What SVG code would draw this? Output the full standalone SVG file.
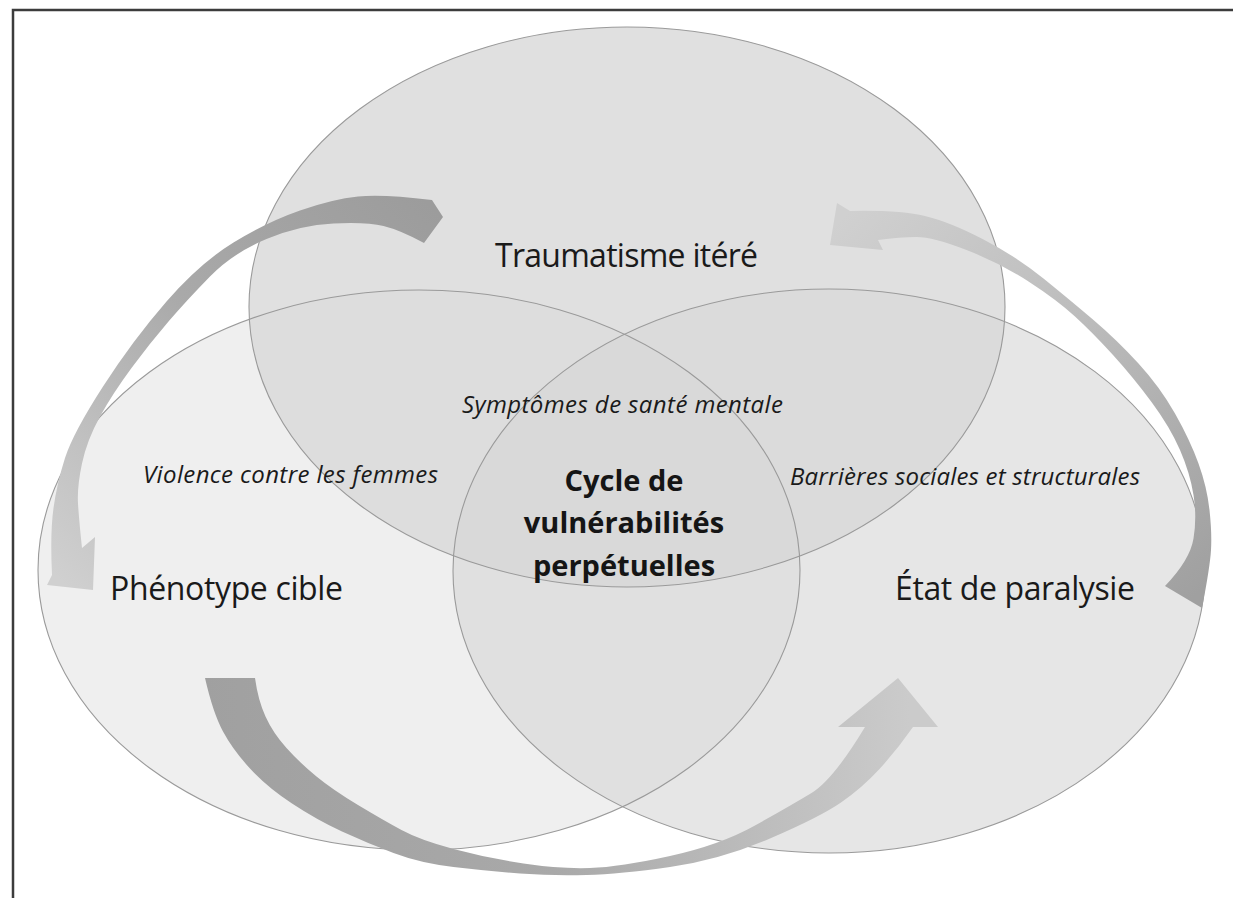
<svg xmlns="http://www.w3.org/2000/svg" width="1233" height="898" viewBox="0 0 1233 898">
<style>
.fillE{fill:#d7d7d7;stroke:none}
.outl{fill:none;stroke:#9a9a9a;stroke-width:1.1}
.lbl{font-family:"Open Sans","Liberation Sans",sans-serif;font-size:32px;fill:#1a1a1a}
.it{font-family:"Open Sans","Liberation Sans",sans-serif;font-size:24px;font-style:italic;fill:#1a1a1a}
.bd{font-family:"Open Sans","Liberation Sans",sans-serif;font-size:29px;font-weight:bold;fill:#151515;text-anchor:middle}
</style>
<defs>
<linearGradient id="gTL" gradientUnits="userSpaceOnUse" x1="440" y1="215" x2="70" y2="590">
<stop offset="0" stop-color="#9c9c9c"/><stop offset="0.45" stop-color="#a9a9a9"/><stop offset="1" stop-color="#d0d0d0"/>
</linearGradient>
<linearGradient id="gR" gradientUnits="userSpaceOnUse" x1="840" y1="220" x2="1190" y2="600">
<stop offset="0" stop-color="#d0d0d0"/><stop offset="0.5" stop-color="#bababa"/><stop offset="1" stop-color="#a0a0a0"/>
</linearGradient>
<linearGradient id="gB" gradientUnits="userSpaceOnUse" x1="200" y1="700" x2="910" y2="700">
<stop offset="0" stop-color="#a0a0a0"/><stop offset="0.5" stop-color="#a9a9a9"/><stop offset="1" stop-color="#cbcbcb"/>
</linearGradient>
</defs>
<rect x="0" y="0" width="1233" height="898" fill="#ffffff"/>
<g id="frame" fill="none" stroke="#3c3c3c" stroke-width="2.5">
<path d="M13 898 V10 H1233"/>
</g>
<g id="node-phenotype">
<ellipse class="fillE" cx="419" cy="570" rx="381" ry="280" fill-opacity="0.4"/>
<text class="lbl" x="110" y="600" textLength="233">Phénotype cible</text>
</g>
<g id="node-paralysie">
<ellipse class="fillE" cx="829" cy="571" rx="376" ry="282" fill-opacity="0.625"/>
<text class="lbl" x="895" y="600" textLength="240">État de paralysie</text>
</g>
<g id="node-traumatisme">
<ellipse class="fillE" cx="627" cy="307" rx="378" ry="280" fill-opacity="0.775"/>
<text class="lbl" x="495" y="267" textLength="263">Traumatisme itéré</text>
</g>
<g id="outlines">
<ellipse class="outl" cx="419" cy="570" rx="381" ry="280"/>
<ellipse class="outl" cx="829" cy="571" rx="376" ry="282"/>
<ellipse class="outl" cx="627" cy="307" rx="378" ry="280" stroke="#8f8f8f"/>
</g>
<g id="connectors">
<path id="arrow-top-left" fill="url(#gTL)" d="M432 200 Q383 194 358 196.5 Q333 199 300 210.5 Q267 222 233.5 242.5 Q200 263 166.5 301.5 Q133 340 103 386.5 Q73 433 65 458 Q57 483 53.5 508 Q50 533 52 575 L47 585 L93 590 L95 537 L82 548 Q79 520 78 503.5 Q77 487 82 463.5 Q87 440 100 416.5 Q113 393 131.5 368 Q150 343 168.5 321.5 Q187 300 210 276.5 Q233 253 266.5 239 Q300 225 333.5 223.5 Q367 222 383.5 226 Q400 230 424 243 L443 217 Z"/>
<path id="arrow-right" fill="url(#gR)" d="M837 203 L850 211 Q900 210 925 216 Q950 222 983.5 239.5 Q1017 257 1043.5 278.5 Q1070 300 1093.5 320 Q1117 340 1138.5 363.5 Q1160 387 1175 413.5 Q1190 440 1198.5 463.5 Q1207 487 1209.5 510 Q1212 533 1211 550 Q1210 567 1202 608 L1165 586 Q1190 560 1193.5 538.5 Q1197 517 1193.5 495 Q1190 473 1180 450 Q1170 427 1151.5 402 Q1133 377 1113 355 Q1093 333 1075 316.5 Q1057 300 1028.5 281.5 Q1000 263 966.5 250 Q933 237 916.5 237 Q900 237 878 240 L883 250 L830 245 Z"/>
<path id="arrow-bottom" fill="url(#gB)" d="M205 678 L255 678 Q258 700 265.5 716.5 Q273 733 286.5 748 Q300 763 316.5 776.5 Q333 790 358 805 Q383 820 401.5 830 Q420 840 453.5 849 Q487 858 523.5 863.5 Q560 869 590 868 Q620 867 670 856 Q720 845 755 825.5 Q790 806 811.5 793 Q833 780 865 727 L838 727 L898 678 L938 727 L913 727 Q897 750 879.5 769 Q862 788 841 802.5 Q820 817 770 838.5 Q720 860 670 867 Q620 874 586.5 875 Q553 876 520 873.5 Q487 871 453.5 867 Q420 863 393.5 853 Q367 843 342 831.5 Q317 820 292 803.5 Q267 787 250 768.5 Q233 750 223 731.5 Q213 713 205 678 Z"/>
</g>
<g id="overlap-labels">
<text class="it" x="462" y="413" textLength="321">Symptômes de santé mentale</text>
<text class="it" x="143" y="483" textLength="295">Violence contre les femmes</text>
<text class="it" x="790" y="485" textLength="350">Barrières sociales et structurales</text>
</g>
<g id="node-center">
<text class="bd" x="624" y="491">Cycle de</text>
<text class="bd" x="624" y="533">vulnérabilités</text>
<text class="bd" x="624" y="576">perpétuelles</text>
</g>
</svg>
